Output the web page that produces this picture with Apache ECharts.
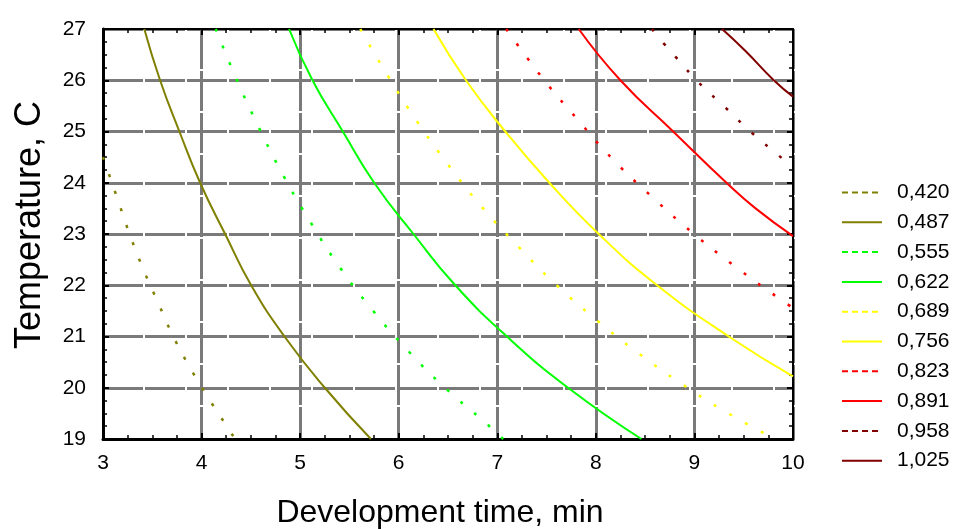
<!DOCTYPE html>
<html>
<head>
<meta charset="utf-8">
<script src="https://cdn.jsdelivr.net/npm/echarts@6/dist/echarts.min.js"></script>
<style>
html,body{margin:0;padding:0;background:#fff;}
#chart{width:953px;height:529px;}
</style>
</head>
<body>
<div id="chart"></div>
<script>
// Contour levels (legend labels)
var levels = ['0,420','0,487','0,555','0,622','0,689','0,756','0,823','0,891','0,958','1,025'];
// Tick labels
var xTicks = [3,4,5,6,7,8,9,10];
var yTicks = [19,20,21,22,23,24,25,26,27];
// Each contour: [development time, temperature]
var c0420 = [[3.0,24.5],[3.044,24.26],[3.162,23.60],[3.281,22.94],[3.416,22.28],[3.561,21.65],[3.708,21.02],[3.883,20.39],[4.069,19.80],[4.269,19.21],[4.34,19.0]];
var c0487 = [[3.419,27],[3.579,26],[3.775,25],[3.985,24],[4.239,23],[4.503,22],[4.841,21],[5.25,20],[5.718,19]];
var c0555 = [[4.144,27],[4.353,26.03],[4.581,25.08],[4.827,24.15],[5.102,23.24],[5.399,22.36],[5.728,21.53],[6.086,20.74],[6.475,19.99],[6.885,19.31],[7.06,19]];
var c0622 = [[4.888,27],[5.125,26],[5.433,25],[5.751,24],[6.150,23],[6.574,22],[7.098,21],[7.718,20],[8.462,19]];
var c0689 = [[5.61,27],[5.886,26.10],[6.178,25.22],[6.499,24.36],[6.838,23.54],[7.206,22.77],[7.592,22.02],[8.002,21.33],[8.428,20.68],[8.875,20.07],[9.335,19.51],[9.82,19]];
var c0756 = [[6.353,27],[6.682,26],[7.081,25],[7.528,24],[8.029,23],[8.621,22],[9.348,21],[10,20.22]];
var c0823 = [[7.091,27],[7.460,26.04],[7.812,25.24],[8.181,24.44],[8.567,23.73],[8.977,23.03],[9.403,22.38],[9.846,21.76],[10,21.56]];
var c0891 = [[7.826,27],[8.249,26],[8.784,25],[9.325,24],[9.62,23.5],[10,22.96]];
var c0958 = [[8.57,27],[8.688,26.72],[8.807,26.46],[9.046,25.95],[9.318,25.46],[9.579,24.98],[9.856,24.53],[10,24.29]];
var c1025 = [[9.281,27],[9.518,26.57],[9.805,26],[10,25.68]];

var curves = [c0420,c0487,c0555,c0622,c0689,c0756,c0823,c0891,c0958,c1025];
var colors = ['#808000','#808000','#00ff00','#00ff00','#ffff00','#ffff00','#ff0000','#ff0000','#800000','#800000'];
var dashed = [true,false,true,false,true,false,true,false,true,false];

var FONT = '"Liberation Sans", Arial, sans-serif';
var gridLine = {show:true, lineStyle:{color:'#7a7a7a', width:3, type:[40,2]}};

var series = curves.map(function(d,i){
  return {
    name: levels[i], type:'line', data:d, smooth:true, symbol:'none',
    xAxisIndex:0, yAxisIndex:0, clip:true,
    color: colors[i],
    lineStyle: dashed[i] ? {color:colors[i], width:2.5, type:[3,15]} : {color:colors[i], width:2, type:'solid'},
    z: 3
  };
});

var legendData = levels.map(function(n,i){
  return {
    name:n,
    itemStyle:{color:'rgba(0,0,0,0)', borderWidth:0, opacity:0},
    lineStyle: dashed[i] ? {type:[6,4], width:2, color:colors[i]} : {type:'solid', width:2, color:colors[i]}
  };
});

function xAxisDef(pos, main){
  return {
    type:'value', position:pos, min:3, max:10, interval:1,
    axisLine:{show:true, onZero:false, lineStyle:{color:'#000', width: main?3:2}},
    axisTick:{show:true, inside:true, length:6, lineStyle:{color:'#000', width:2}},
    minorTick:{show:true, splitNumber:4, length:4, lineStyle:{color:'#000', width:1.5}},
    axisLabel:{show:main, color:'#000', fontSize:21, fontFamily:FONT, margin:14,
      formatter:function(v){ return xTicks.indexOf(v) >= 0 ? String(v) : ''; }},
    splitLine: main ? gridLine : {show:false},
    name: main ? 'Development time, min' : '',
    nameLocation:'middle', nameGap:58,
    nameTextStyle:{color:'#000', fontSize:32, fontFamily:FONT, padding:[0,16,0,0]}
  };
}
function yAxisDef(pos, main){
  return {
    type:'value', position:pos, min:19, max:27, interval:1,
    axisLine:{show:true, onZero:false, lineStyle:{color:'#000', width: main?3:2}},
    axisTick:{show:true, inside:true, length:6, lineStyle:{color:'#000', width:2}},
    minorTick:{show:true, splitNumber:4, length:4, lineStyle:{color:'#000', width:1.5}},
    axisLabel:{show:main, color:'#000', fontSize:21, fontFamily:FONT, margin:17,
      formatter:function(v){ return yTicks.indexOf(v) >= 0 ? String(v) : ''; }},
    splitLine: main ? gridLine : {show:false},
    name: main ? 'Temperature, C' : '',
    nameLocation:'middle', nameGap:55, nameRotate:90,
    nameTextStyle:{color:'#000', fontSize:36, fontFamily:FONT, padding:[0,0,0,18]}
  };
}

var chart = echarts.init(document.getElementById('chart'), null, {renderer:'canvas'});
chart.setOption({
  animation:false,
  backgroundColor:'#fff',
  grid:{left:103, top:29, width:690, height:410, containLabel:false, outerBoundsMode:'none'},
  xAxis:[xAxisDef('bottom', true), xAxisDef('top', false)],
  yAxis:[yAxisDef('left', true), yAxisDef('right', false)],
  legend:{
    orient:'vertical', left:836, top:177,
    itemWidth:40, itemHeight:14, itemGap:8.8,
    textStyle:{color:'#000', fontSize:21, fontFamily:FONT, lineHeight:21, padding:[0,0,0,10]},
    data:legendData,
    selectedMode:false
  },
  series:series
});
</script>
</body>
</html>
